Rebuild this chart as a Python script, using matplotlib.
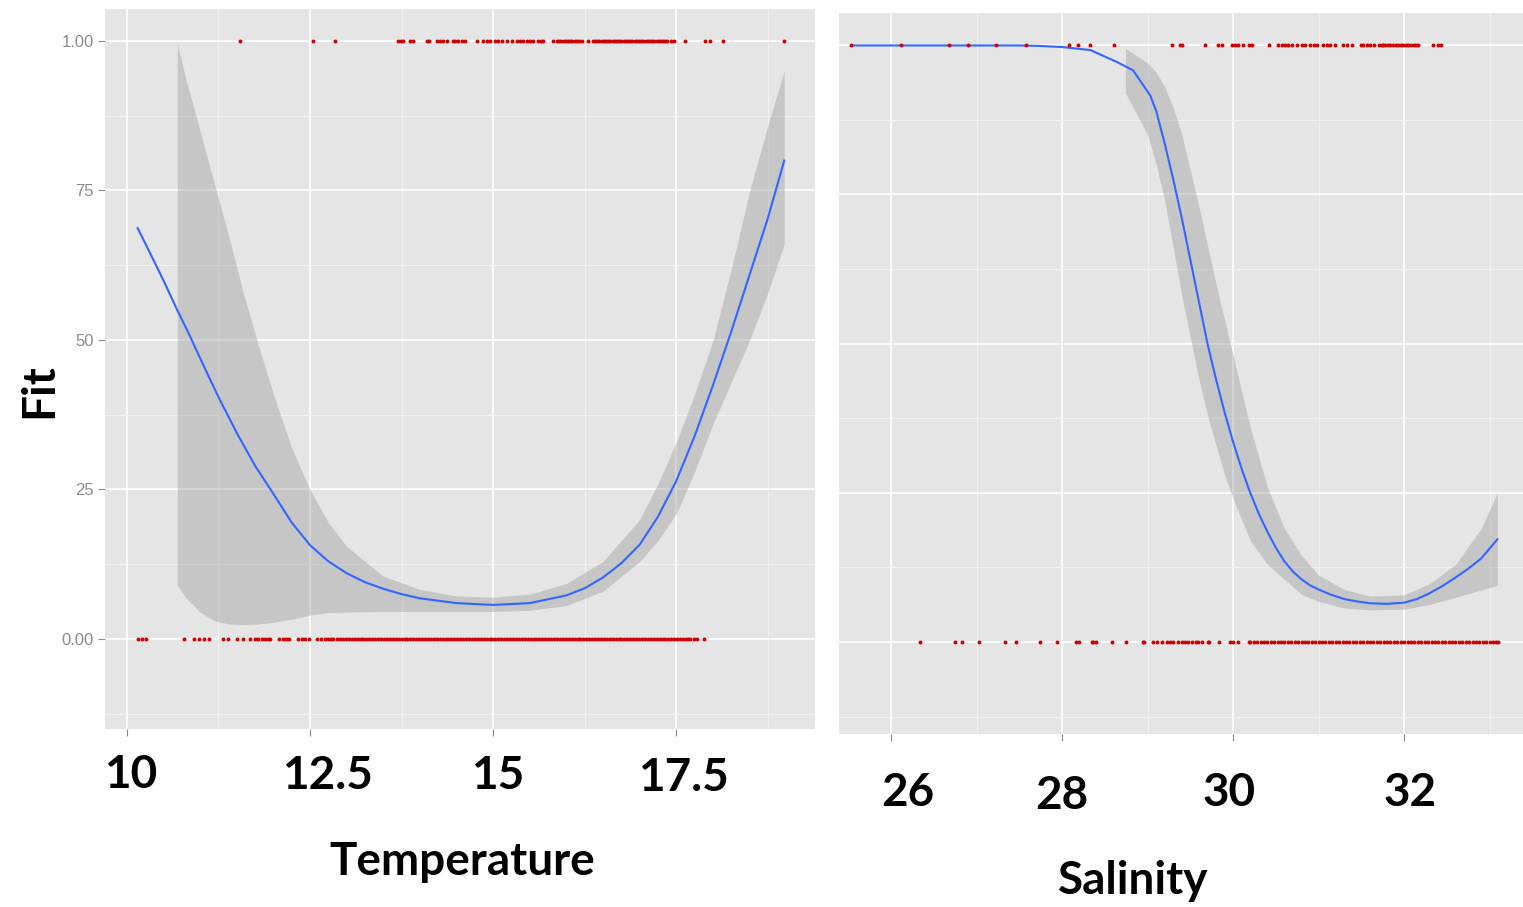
import matplotlib
matplotlib.use("Agg")
import matplotlib.pyplot as plt

# ---- Temperature panel ----
temp_fit_x = [10.15, 10.3, 10.5, 10.69, 10.85, 11.0, 11.25, 11.5, 11.75, 12.0, 12.25, 12.5,
              12.75, 13.0, 13.25, 13.5, 13.75, 14.0, 14.5, 15.0, 15.5, 16.0, 16.25, 16.5,
              16.75, 17.0, 17.25, 17.5, 17.75, 18.0, 18.25, 18.5, 18.75, 18.97]
temp_fit_y = [0.687, 0.65, 0.60, 0.55, 0.51, 0.47, 0.405, 0.345, 0.29, 0.243, 0.195, 0.157,
              0.13, 0.11, 0.095, 0.084, 0.075, 0.068, 0.06, 0.057, 0.06, 0.073, 0.085, 0.103,
              0.127, 0.158, 0.205, 0.265, 0.34, 0.425, 0.515, 0.61, 0.705, 0.80]

temp_se_x = [10.69, 10.8, 11.0, 11.2, 11.4, 11.6, 11.8, 12.0, 12.25, 12.5, 12.75, 13.0,
             13.5, 14.0, 14.5, 15.0, 15.5, 16.0, 16.5, 17.0, 17.25, 17.5, 17.75, 18.0,
             18.25, 18.5, 18.75, 18.97]
temp_se_lo = [0.09, 0.07, 0.045, 0.03, 0.025, 0.024, 0.025, 0.028, 0.033, 0.04, 0.044, 0.045,
              0.046, 0.046, 0.046, 0.046, 0.048, 0.056, 0.08, 0.13, 0.165, 0.21, 0.28, 0.36,
              0.43, 0.50, 0.58, 0.66]
temp_se_hi = [0.995, 0.94, 0.85, 0.76, 0.67, 0.575, 0.49, 0.41, 0.32, 0.25, 0.195, 0.155,
              0.105, 0.083, 0.072, 0.07, 0.075, 0.093, 0.13, 0.2, 0.26, 0.33, 0.41, 0.50,
              0.62, 0.75, 0.86, 0.95]

temp_present = [11.55, 12.54, 12.84, 13.70, 13.74, 13.77, 13.86, 13.91, 14.10, 14.12, 14.23,
                14.27, 14.32, 14.37, 14.45, 14.48, 14.52, 14.57, 14.62, 14.78, 14.86, 14.92,
                14.96, 15.02, 15.07, 15.12, 15.19, 15.26, 15.32, 15.37, 15.41, 15.46, 15.50,
                15.54, 15.61, 15.65, 15.68, 15.82, 15.87, 15.90, 15.93, 15.96, 15.99, 16.02,
                16.05, 16.08, 16.11, 16.14, 16.17, 16.21, 16.29, 16.36, 16.39, 16.42, 16.45,
                16.48, 16.51, 16.54, 16.57, 16.60, 16.63, 16.66, 16.69, 16.72, 16.75, 16.78,
                16.81, 16.84, 16.87, 16.90, 16.93, 16.96, 16.99, 17.02, 17.05, 17.08, 17.11,
                17.14, 17.17, 17.20, 17.23, 17.26, 17.29, 17.32, 17.35, 17.37, 17.42, 17.46,
                17.62, 17.89, 17.96, 18.14, 18.97]
temp_absent = [10.16, 10.21, 10.26, 10.78, 10.92, 10.99, 11.05, 11.12, 11.31, 11.38, 11.50,
               11.59, 11.68, 11.75, 11.79, 11.85, 11.89, 11.93, 11.96, 12.08, 12.13, 12.17,
               12.21, 12.34, 12.39, 12.43, 12.49, 12.60, 12.65, 12.71, 12.75, 12.79, 12.82,
               12.87, 12.91, 12.95, 12.99, 13.03, 13.07, 13.11, 13.15, 13.19, 13.23, 13.27,
               13.31, 13.35, 13.39, 13.43, 13.47, 13.51, 13.55, 13.59, 13.63, 13.67, 13.71,
               13.75, 13.79, 13.83, 13.87, 13.91, 13.95, 13.99, 14.03, 14.07, 14.11, 14.15,
               14.19, 14.23, 14.27, 14.31, 14.35, 14.39, 14.43, 14.47, 14.51, 14.55, 14.59,
               14.63, 14.67, 14.71, 14.75, 14.79, 14.83, 14.87, 14.91, 14.95, 14.99, 15.03,
               15.07, 15.11, 15.15, 15.19, 15.23, 15.27, 15.31, 15.35, 15.39, 15.43, 15.47,
               15.51, 15.55, 15.59, 15.63, 15.67, 15.71, 15.75, 15.79, 15.83, 15.87, 15.91,
               15.95, 15.99, 16.03, 16.07, 16.11, 16.15, 16.19, 16.23, 16.27, 16.31, 16.35,
               16.39, 16.43, 16.47, 16.51, 16.55, 16.59, 16.63, 16.67, 16.71, 16.75, 16.79,
               16.83, 16.87, 16.91, 16.95, 16.99, 17.03, 17.07, 17.11, 17.15, 17.19, 17.23,
               17.27, 17.31, 17.35, 17.39, 17.43, 17.47, 17.51, 17.55, 17.59, 17.63, 17.66,
               17.69, 17.74, 17.78, 17.88]

# ---- Salinity panel ----
sal_fit_x = [25.53, 26.0, 26.5, 27.0, 27.5, 27.72, 28.0, 28.33, 28.64, 28.83, 29.03, 29.1,
             29.2, 29.3, 29.4, 29.5, 29.6, 29.7, 29.8, 29.9, 30.0, 30.1, 30.2, 30.3, 30.4,
             30.5, 30.6, 30.7, 30.8, 30.9, 31.0, 31.15, 31.3, 31.45, 31.6, 31.8, 32.0, 32.15,
             32.3, 32.45, 32.6, 32.75, 32.9, 33.09]
sal_fit_y = [0.9997, 0.9997, 0.9997, 0.9997, 0.9997, 0.999, 0.997, 0.992, 0.972, 0.958, 0.916,
             0.89, 0.835, 0.775, 0.71, 0.64, 0.57, 0.50, 0.44, 0.385, 0.335, 0.29, 0.25, 0.215,
             0.185, 0.158, 0.135, 0.118, 0.105, 0.095, 0.088, 0.079, 0.072, 0.068, 0.065, 0.064,
             0.066, 0.072, 0.082, 0.094, 0.108, 0.123, 0.14, 0.172]

sal_se_x = [28.74, 29.0, 29.1, 29.2, 29.3, 29.4, 29.5, 29.6, 29.7, 29.8, 29.9, 30.0, 30.2,
            30.4, 30.6, 30.8, 31.0, 31.3, 31.6, 32.0, 32.3, 32.6, 32.9, 33.09]
sal_se_lo = [0.92, 0.85, 0.80, 0.74, 0.66, 0.58, 0.51, 0.44, 0.38, 0.33, 0.28, 0.24, 0.17,
             0.13, 0.105, 0.08, 0.068, 0.057, 0.054, 0.055, 0.063, 0.075, 0.087, 0.095]
sal_se_hi = [0.995, 0.97, 0.955, 0.93, 0.895, 0.85, 0.79, 0.73, 0.665, 0.60, 0.54, 0.48, 0.36,
             0.26, 0.19, 0.145, 0.112, 0.088, 0.077, 0.079, 0.098, 0.13, 0.19, 0.25]

sal_present = [25.53, 26.11, 26.68, 26.90, 27.23, 27.58, 28.08, 28.19, 28.33, 28.61, 29.29,
               29.38, 29.40, 29.67, 29.82, 29.87, 29.99, 30.02, 30.06, 30.12, 30.18, 30.22,
               30.42, 30.53, 30.57, 30.61, 30.64, 30.69, 30.75, 30.81, 30.84, 30.90, 30.94,
               30.98, 31.05, 31.10, 31.13, 31.19, 31.29, 31.33, 31.39, 31.49, 31.52, 31.57,
               31.60, 31.65, 31.70, 31.74, 31.75, 31.78, 31.81, 31.84, 31.87, 31.90, 31.93,
               31.96, 31.99, 32.02, 32.05, 32.08, 32.11, 32.14, 32.16, 32.34, 32.39, 32.43]
sal_absent = [26.34, 26.75, 26.83, 27.03, 27.33, 27.46, 27.74, 27.94, 28.16, 28.20, 28.35,
              28.36, 28.39, 28.58, 28.75, 28.94, 28.96, 29.06, 29.11, 29.17, 29.23, 29.26,
              29.30, 29.36, 29.40, 29.44, 29.47, 29.52, 29.56, 29.59, 29.64, 29.70, 29.72,
              29.84, 29.96, 30.00, 30.06, 30.18, 30.20, 30.24, 30.28, 30.32, 30.36, 30.40,
              30.44, 30.48, 30.52, 30.56, 30.60, 30.64, 30.68, 30.72, 30.76, 30.80, 30.84,
              30.88, 30.92, 30.96, 31.00, 31.04, 31.08, 31.12, 31.16, 31.20, 31.24, 31.28,
              31.32, 31.36, 31.40, 31.44, 31.48, 31.52, 31.56, 31.60, 31.64, 31.68, 31.72,
              31.76, 31.80, 31.84, 31.88, 31.92, 31.96, 32.00, 32.04, 32.08, 32.12, 32.16,
              32.20, 32.24, 32.28, 32.32, 32.36, 32.40, 32.44, 32.48, 32.52, 32.56, 32.60,
              32.64, 32.68, 32.72, 32.76, 32.80, 32.84, 32.88, 32.92, 32.96, 33.00, 33.04,
              33.08, 33.10]

y_ticks = [0.0, 0.25, 0.5, 0.75, 1.0]
y_minor = [-0.125, 0.125, 0.375, 0.625, 0.875]
y_ticklabels = ["0.00", "25", "50", "75", "1.00"]
temp_ticks = [10, 12.5, 15, 17.5]
temp_minor = [11.25, 13.75, 16.25, 18.75]
temp_ticklabels = ["10", "12.5", "15", "17.5"]
sal_ticks = [26, 28, 30, 32]
sal_minor = [25, 27, 29, 31, 33]
sal_ticklabels = ["26", "28", "30", "32"]

W, H = 1523, 907
fig = plt.figure(figsize=(W / 100, H / 100), dpi=100)

BG = "#E5E5E5"
RED = "#d10000"
BLUE = "#3366FF"


def style_panel(ax, xticks, xminor, xlim, ylim):
    ax.set_facecolor(BG)
    for s in ax.spines.values():
        s.set_visible(False)
    ax.set_xticks(xticks)
    ax.set_xticks(xminor, minor=True)
    ax.set_yticks(y_ticks)
    ax.set_yticks(y_minor, minor=True)
    # limits after ticks, otherwise set_xticks widens them
    ax.set_xlim(*xlim)
    ax.set_ylim(*ylim)
    ax.grid(True, which="major", color="white", lw=1.2)
    ax.grid(True, which="minor", color="#F2F2F2", lw=0.7)
    ax.set_axisbelow(True)
    ax.tick_params(which="minor", length=0)
    ax.tick_params(axis="x", which="major", length=5, color="#8c8c8c", labelbottom=False)


# left panel
ax1 = fig.add_axes([105 / W, 1 - 729 / H, 710 / W, 720 / H])
style_panel(ax1, temp_ticks, temp_minor, (9.704, 19.39), (-0.1505, 1.0535))
ax1.set_yticklabels(y_ticklabels, color="#8c8c8c", fontsize=12, family="Liberation Sans")
ax1.tick_params(axis="y", which="major", length=5, color="#8c8c8c", pad=3)
ax1.fill_between(temp_se_x, temp_se_lo, temp_se_hi, color="#999999", alpha=0.4, lw=0)
ax1.plot(temp_fit_x, temp_fit_y, color=BLUE, lw=1.5)
ax1.scatter(temp_present, [1] * len(temp_present), s=8, color=RED, lw=0, zorder=3)
ax1.scatter(temp_absent, [0] * len(temp_absent), s=8, color=RED, lw=0, zorder=3)
ax1.set_xlim(9.704, 19.39)
ax1.set_ylim(-0.1505, 1.0535)

# right panel
ax2 = fig.add_axes([839 / W, 1 - 734 / H, (W - 839) / W, 721 / H])
style_panel(ax2, sal_ticks, sal_minor, (25.39, 33.39), (-0.1541, 1.0541))
ax2.tick_params(axis="y", which="major", length=0, labelleft=False)
ax2.fill_between(sal_se_x, sal_se_lo, sal_se_hi, color="#999999", alpha=0.4, lw=0)
ax2.plot(sal_fit_x, sal_fit_y, color=BLUE, lw=1.5)
ax2.scatter(sal_present, [1] * len(sal_present), s=8, color=RED, lw=0, zorder=3)
ax2.scatter(sal_absent, [0] * len(sal_absent), s=8, color=RED, lw=0, zorder=3)
ax2.set_xlim(25.39, 33.39)
ax2.set_ylim(-0.1541, 1.0541)

# big overlaid labels
big = dict(fontsize=33, fontweight="bold", family=["Lato", "DejaVu Sans"], color="black",
           ha="center", va="baseline")
temp_label_pos = [(131, 788), (327, 789), (498, 789), (683, 791)]
for lab, (px, py) in zip(temp_ticklabels, temp_label_pos):
    fig.text(px / W, 1 - py / H, lab, **big)
sal_label_pos = [(908, 806), (1062, 809), (1229, 806), (1410, 806)]
for lab, (px, py) in zip(sal_ticklabels, sal_label_pos):
    fig.text(px / W, 1 - py / H, lab, **big)

fig.text(462 / W, 1 - 875 / H, "Temperature", **big)
fig.text(1133 / W, 1 - 894 / H, "Salinity", **big)
fig.text(52 / W, 1 - 391 / H, "Fit", rotation=90, rotation_mode="anchor", **big)

fig.savefig("out.png", dpi=100)
